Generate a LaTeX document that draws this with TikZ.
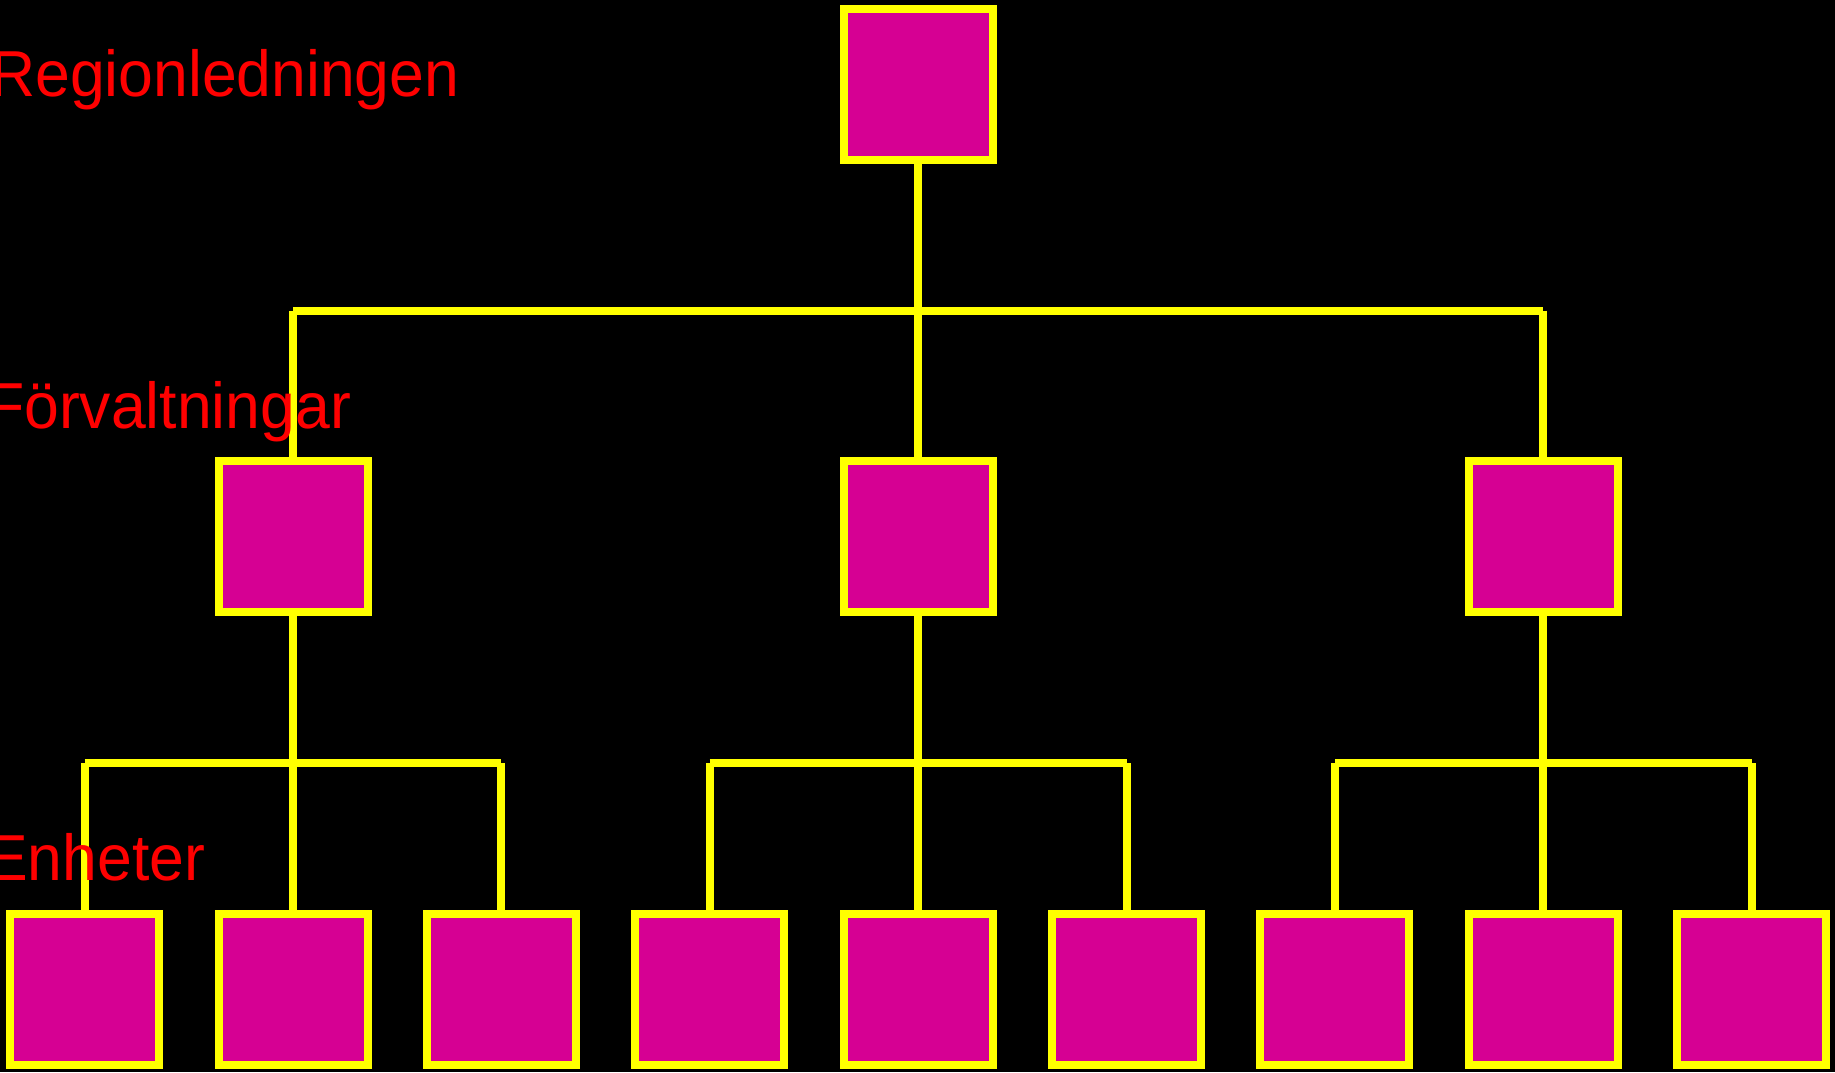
\documentclass[tikz,border=0pt]{standalone}
\usepackage{fontspec}
\setmainfont{Liberation Sans}
\usepackage{graphicx}
\definecolor{boxfill}{HTML}{D60093}
\definecolor{linecol}{HTML}{FFFF00}
\definecolor{labelcol}{HTML}{FF0000}
\begin{document}
\begin{tikzpicture}[x=1bp,y=-1bp,
  orgbox/.style={rectangle, draw=linecol, fill=boxfill, line width=8bp,
    minimum width=149bp, minimum height=151bp, inner sep=0pt},
  conn/.style={draw=linecol, line width=8bp, line cap=butt},
  lvl/.style={anchor=base west, inner sep=0pt, text=labelcol,
    font=\fontsize{62.5bp}{70bp}\selectfont}]
\fill[black] (0,0) rectangle (1835,1072);
\useasboundingbox (0,0) rectangle (1835,1072);
% boxes
\node[orgbox] (top) at (918.3,84.5) {};
\node[orgbox] (m1) at (293,536.5) {};
\node[orgbox] (m2) at (918.3,536.5) {};
\node[orgbox] (m3) at (1543,536.5) {};
\node[orgbox] (b1) at (84.5,989.5) {};
\node[orgbox] (b2) at (293,989.5) {};
\node[orgbox] (b3) at (501.3,989.5) {};
\node[orgbox] (b4) at (709.7,989.5) {};
\node[orgbox] (b5) at (918.3,989.5) {};
\node[orgbox] (b6) at (1126.5,989.5) {};
\node[orgbox] (b7) at (1334.9,989.5) {};
\node[orgbox] (b8) at (1543,989.5) {};
\node[orgbox] (b9) at (1751.7,989.5) {};
% bus levels
\coordinate (busA) at (0,310.5);
\coordinate (busB) at (0,763.3);
% top level
\draw[conn] (top.south) -- (m2.north);
\draw[conn] (m1.north |- busA) -- (m3.north |- busA);
\draw[conn] (m1.north |- busA) -- (m1.north);
\draw[conn] (m3.north |- busA) -- (m3.north);
% group 1
\draw[conn] (m1.south) -- (b2.north);
\draw[conn] (b1.north |- busB) -- (b3.north |- busB);
\draw[conn] (b1.north |- busB) -- (b1.north);
\draw[conn] (b3.north |- busB) -- (b3.north);
% group 2
\draw[conn] (m2.south) -- (b5.north);
\draw[conn] (b4.north |- busB) -- (b6.north |- busB);
\draw[conn] (b4.north |- busB) -- (b4.north);
\draw[conn] (b6.north |- busB) -- (b6.north);
% group 3
\draw[conn] (m3.south) -- (b8.north);
\draw[conn] (b7.north |- busB) -- (b9.north |- busB);
\draw[conn] (b7.north |- busB) -- (b7.north);
\draw[conn] (b9.north |- busB) -- (b9.north);
% labels
\node[lvl] (lreg) at (-10,96) {\scalebox{1}[1.04]{Regionledningen}};
\node[lvl] (lfor) at (-14,428) {\scalebox{1}[1.04]{Förvaltningar}};
\node[lvl] (lenh) at (-14,880) {\scalebox{1}[1.04]{Enheter}};
\end{tikzpicture}
\end{document}
